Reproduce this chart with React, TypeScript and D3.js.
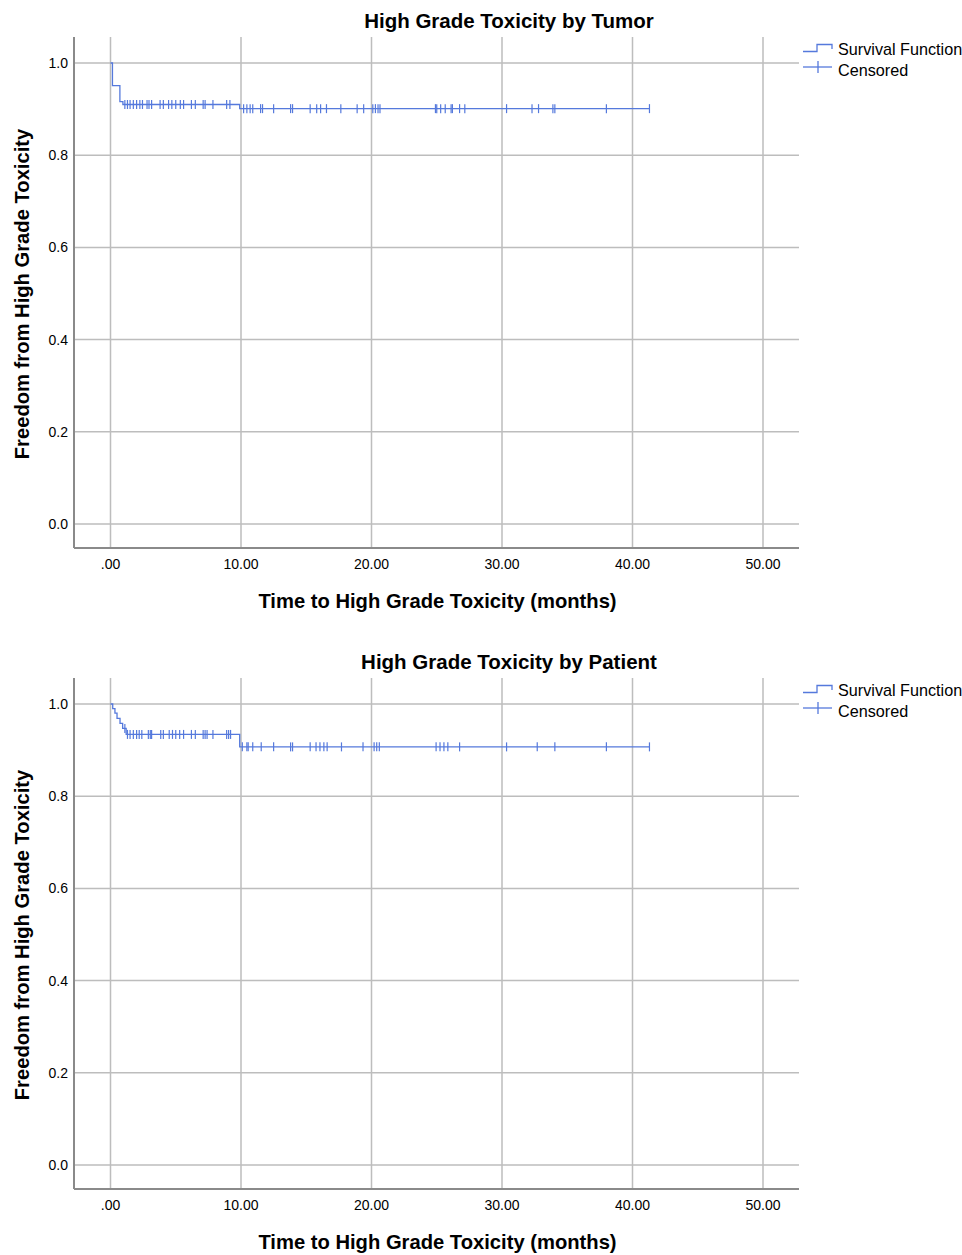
import React from 'react';
import * as d3 from 'd3';

// Kaplan-Meier steps
const tumorEventTimes = [0, 0.15, 0.72, 0.95, 9.9];
const tumorEventSurv = [1.0, 0.951, 0.916, 0.910, 0.901];
const tumorCensored = [
  1.1, 1.3, 1.5, 1.75, 2.0, 2.25, 2.45, 2.8, 2.95, 3.15, 3.8, 4.05, 4.45, 4.7, 5.0, 5.35, 5.6, 6.2, 6.5,
  7.1, 7.25, 7.85, 8.9, 9.15,
  10.2, 10.45, 10.7, 10.9, 11.5, 11.65, 12.5, 13.8, 13.95, 15.3, 15.8, 16.1, 16.55, 17.65, 18.9, 19.4,
  20.1, 20.3, 20.5, 20.65, 24.9, 25.0, 25.3, 25.65, 26.1, 26.2, 26.75, 27.15, 30.35, 32.3, 32.8, 33.9,
  34.05, 38.0, 41.3,
];

const patientEventTimes = [0, 0.17, 0.34, 0.5, 0.73, 0.93, 1.2, 9.9];
const patientEventSurv = [1.0, 0.99, 0.98, 0.969, 0.958, 0.947, 0.934, 0.907];
const patientCensored = [
  1.1, 1.3, 1.5, 1.75, 2.0, 2.2, 2.4, 2.9, 3.05, 3.15, 3.85, 4.05, 4.5, 4.75, 5.0, 5.3, 5.6, 6.2, 6.5,
  7.1, 7.25, 7.4, 7.85, 8.9, 9.05, 9.2,
  10.1, 10.45, 10.55, 10.9, 11.55, 12.5, 13.8, 13.95, 15.3, 15.75, 16.05, 16.35, 16.6, 17.7, 19.35,
  20.2, 20.4, 20.6, 24.95, 25.25, 25.55, 25.85, 26.75, 30.35, 32.7, 34.05, 38.0, 41.3,
];

const xTicks = [0, 10, 20, 30, 40, 50];
const xTickLabels = ['.00', '10.00', '20.00', '30.00', '40.00', '50.00'];
const yTicks = [0, 0.2, 0.4, 0.6, 0.8, 1.0];
const yTickLabels = ['0.0', '0.2', '0.4', '0.6', '0.8', '1.0'];

const BLUE = '#5579dc';
const GRID = '#bdbdbd';
const AXIS = '#8a8a8a';
const FONT = '"Liberation Sans", Arial, sans-serif';

const survAt = (times, surv, t) => {
  let s = surv[0];
  for (let i = 0; i < times.length; i++) if (times[i] <= t) s = surv[i];
  return s;
};

const KMChart = ({ top, title, times, surv, censored }) => {
  const plotTop = top + 37;
  const plotBottom = top + 548;
  const left = 74;
  const right = 799;
  const x = d3.scaleLinear().domain([0, 50]).range([110.5, 763]);
  const y = d3.scaleLinear().domain([0, 1]).range([top + 524, top + 63]);

  const last = censored[censored.length - 1];
  const pts = times.map((t, i) => [t, surv[i]]);
  pts.push([last, surv[surv.length - 1]]);
  const line = d3.line().x(d => x(d[0])).y(d => y(d[1])).curve(d3.curveStepAfter);

  return (
    <g>
      <text x={509} y={top + 28} textAnchor="middle" fontFamily={FONT} fontWeight="bold" fontSize={20.5}>{title}</text>
      {/* grid */}
      {xTicks.map(t => (
        <line key={'vx' + t} x1={x(t)} x2={x(t)} y1={plotTop} y2={plotBottom} stroke={GRID} strokeWidth={1.5} />
      ))}
      {yTicks.map(v => (
        <line key={'hy' + v} x1={left} x2={right} y1={y(v)} y2={y(v)} stroke={GRID} strokeWidth={1.5} />
      ))}
      {/* axes */}
      <line x1={left} x2={left} y1={plotTop} y2={plotBottom} stroke={AXIS} strokeWidth={2} />
      <line x1={left} x2={right} y1={plotBottom} y2={plotBottom} stroke={AXIS} strokeWidth={2} />
      {yTicks.map((v, i) => (
        <text key={'yl' + v} x={68} y={y(v) + 5} textAnchor="end" fontFamily={FONT} fontSize={14}>{yTickLabels[i]}</text>
      ))}
      {xTicks.map((t, i) => (
        <text key={'xl' + t} x={x(t)} y={plotBottom + 21} textAnchor="middle" fontFamily={FONT} fontSize={14}>{xTickLabels[i]}</text>
      ))}
      <text x={437.5} y={top + 608} textAnchor="middle" fontFamily={FONT} fontWeight="bold" fontSize={20.2}>
        Time to High Grade Toxicity (months)
      </text>
      <text transform={`translate(29,${top + 294}) rotate(-90)`} textAnchor="middle" fontFamily={FONT} fontWeight="bold" fontSize={20.2}>
        Freedom from High Grade Toxicity
      </text>
      {/* curve */}
      <path d={line(pts)} fill="none" stroke={BLUE} strokeWidth={1.3} />
      {censored.map((t, i) => {
        const cy = y(survAt(times, surv, t));
        return <line key={'c' + i} x1={x(t)} x2={x(t)} y1={cy - 4.5} y2={cy + 4.5} stroke={BLUE} strokeWidth={1.2} />;
      })}
      {/* legend */}
      <path d={`M803,${top + 51.5}H817V${top + 44.5}H832V${top + 49}`} fill="none" stroke={BLUE} strokeWidth={1.3} />
      <text x={838} y={top + 55} fontFamily={FONT} fontSize={16.2}>Survival Function</text>
      <line x1={803} x2={832} y1={top + 67} y2={top + 67} stroke={BLUE} strokeWidth={1.3} />
      <line x1={818} x2={818} y1={top + 61} y2={top + 73} stroke={BLUE} strokeWidth={1.3} />
      <text x={838} y={top + 76} fontFamily={FONT} fontSize={16.2}>Censored</text>
    </g>
  );
};

export default function App() {
  return (
    <svg width={962} height={1255} style={{ position: 'absolute', left: 0, top: 0, background: '#fff' }}>
      <rect width={962} height={1255} fill="#fff" />
      <KMChart top={0} title="High Grade Toxicity by Tumor" times={tumorEventTimes} surv={tumorEventSurv} censored={tumorCensored} />
      <KMChart top={641} title="High Grade Toxicity by Patient" times={patientEventTimes} surv={patientEventSurv} censored={patientCensored} />
    </svg>
  );
}
